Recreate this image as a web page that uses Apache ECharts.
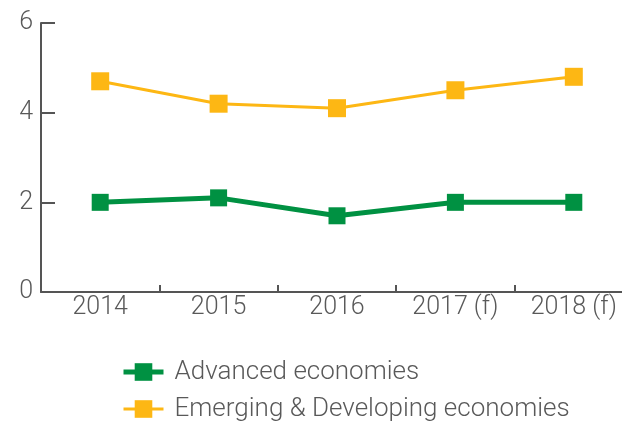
<!DOCTYPE html>
<html>
<head>
<meta charset="utf-8">
<script src="https://cdn.jsdelivr.net/npm/echarts@6/dist/echarts.min.js"></script>
<style>
	html, body { margin: 0; padding: 0; background: #fff; }
	#chart { width: 622px; height: 423px; }
</style>
</head>
<body>
<div id="chart"></div>
<script>
var years = ['2014', '2015', '2016', '2017 (f)', '2018 (f)'];
var advanced = [2.0, 2.1, 1.7, 2.0, 2.0];
var emerging = [4.7, 4.2, 4.1, 4.5, 4.8];
var yTicks = [0, 2, 4, 6];

var chart = echarts.init(document.getElementById('chart'));

var axisGrey = '#555555';
var textGrey = '#595959';
var font = 'Roboto, "Liberation Sans", sans-serif';

var option = {
	animation: false,
	backgroundColor: '#ffffff',
	grid: {
		left: 41,
		width: 592,
		top: 23,
		height: 269,
		containLabel: false,
		outerBoundsMode: 'none'
	},
	legend: {
		orient: 'vertical',
		left: 121,
		top: 359,
		height: 120,
		padding: 0,
		itemGap: 11,
		itemWidth: 40,
		itemHeight: 22,
		textStyle: {
			fontFamily: font,
			fontSize: 26,
			fontWeight: 300,
			color: textGrey,
			padding: [0, 0, 0, 6]
		},
		data: [
			{ name: 'Advanced economies', lineStyle: { width: 5 } },
			{ name: 'Emerging & Developing economies', lineStyle: { width: 3 } }
		]
	},
	xAxis: {
		type: 'category',
		data: years,
		boundaryGap: true,
		axisLine: { lineStyle: { color: axisGrey, width: 2 } },
		axisTick: { show: true, inside: true, length: 7, lineStyle: { color: axisGrey, width: 2 } },
		axisLabel: {
			fontFamily: font,
			fontSize: 25,
			fontWeight: 300,
			color: textGrey,
			margin: 3
		}
	},
	yAxis: {
		type: 'value',
		min: yTicks[0],
		max: yTicks[yTicks.length - 1],
		interval: 2,
		splitLine: { show: false },
		axisLine: { show: true, lineStyle: { color: axisGrey, width: 2 } },
		axisTick: { show: true, inside: true, length: 14, lineStyle: { color: axisGrey, width: 2 } },
		axisLabel: {
			fontFamily: font,
			fontSize: 25,
			fontWeight: 300,
			color: textGrey,
			margin: 8
		}
	},
	series: [{
		name: 'Advanced economies',
		type: 'line',
		data: advanced,
		symbol: 'rect',
		symbolSize: 17,
		color: '#009142',
		lineStyle: { width: 5, color: '#009142' },
		itemStyle: { color: '#009142' }
	}, {
		name: 'Emerging & Developing economies',
		type: 'line',
		data: emerging,
		symbol: 'rect',
		symbolSize: 18,
		color: '#FDB714',
		lineStyle: { width: 3, color: '#FDB714' },
		itemStyle: { color: '#FDB714' }
	}]
};

chart.setOption(option);
</script>
</body>
</html>
